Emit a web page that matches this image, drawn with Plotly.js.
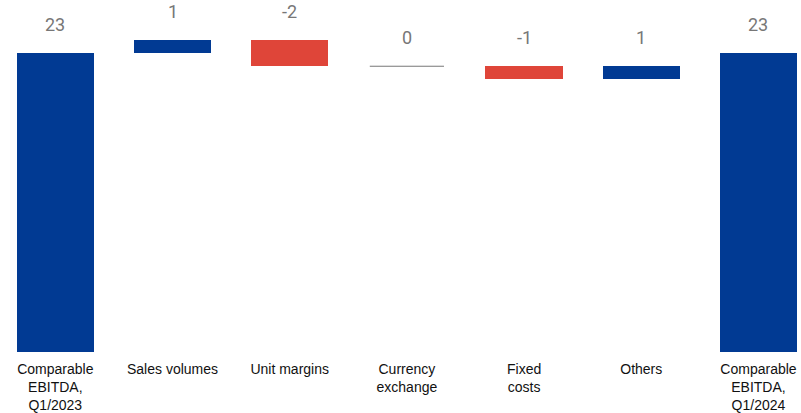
<!DOCTYPE html>
<html>
<head>
<meta charset="utf-8">
<script src="https://cdn.plot.ly/plotly-3.0.1.min.js"></script>
<style>html,body{margin:0;padding:0;background:#fff;}#chart{width:801px;height:413px;}</style>
</head>
<body>
<div id="chart"></div>
<script>
// ---- data ----
var categories = ["Comparable<br>EBITDA,<br>Q1/2023", "Sales volumes", "Unit margins", "Currency<br>exchange", "Fixed<br>costs", "Others", "Comparable<br>EBITDA,<br>Q1/2024"];
var values = [23, 1, -2, 0, -1, 1, 23];
var measures = ["absolute", "relative", "relative", "relative", "relative", "relative", "absolute"];
var valueLabels = ["23", "1", "-2", "0", "-1", "1", "23"];

// ---- styles ----
var BLUE = "#013a93";
var RED = "#df4539";
var GRAY = "#777777";

// build waterfall geometry from data
var idx = [], bases = [], heights = [], colors = [], tops = [];
var running = 0;
for (var i = 0; i < values.length; i++) {
  idx.push(i);
  var b, h;
  if (measures[i] === "absolute") { b = 0; h = values[i]; running = values[i]; }
  else { b = running; h = values[i]; running += values[i]; }
  bases.push(b); heights.push(h);
  tops.push(Math.max(b, b + h));
  colors.push(values[i] < 0 ? RED : BLUE);
}

var zeroX = [], zeroY = [];
for (var j = 0; j < values.length; j++) {
  if (values[j] === 0) { zeroX.push(j); zeroY.push(bases[j]); }
}

var barTrace = {
  type: "bar",
  x: idx,
  y: heights,
  base: bases,
  width: 0.66,
  marker: {color: colors, line: {width: 0}},
  hoverinfo: "none",
  showlegend: false
};

var zeroTrace = {
  type: "scatter",
  mode: "markers",
  x: zeroX,
  y: zeroY,
  marker: {symbol: "line-ew", size: 53, color: GRAY, line: {color: GRAY, width: 1}},
  hoverinfo: "none",
  showlegend: false,
  cliponaxis: false
};

var annotations = idx.map(function (k) {
  return {
    x: k, y: tops[k], xref: "x", yref: "y",
    text: valueLabels[k], showarrow: false,
    yanchor: "bottom", yshift: 16,
    font: {family: "Roboto, sans-serif", size: 18, color: GRAY}
  };
});

var layout = {
  width: 801, height: 413,
  margin: {l: 0, r: 0, t: 0, b: 61, pad: 0},
  paper_bgcolor: "#ffffff",
  plot_bgcolor: "#ffffff",
  xaxis: {
    range: [-0.472, 6.363],
    tickvals: idx, ticktext: categories,
    showgrid: false, zeroline: false, showline: false, ticks: "",
    ticklabelstandoff: 7,
    tickfont: {family: "Liberation Sans, Arial, sans-serif", size: 14, color: "#111111"}
  },
  yaxis: {
    range: [0, 27.1],
    visible: false, showgrid: false, zeroline: false
  },
  annotations: annotations,
  bargap: 0
};

Plotly.newPlot("chart", [barTrace, zeroTrace], layout, {displayModeBar: false, staticPlot: true});
</script>
</body>
</html>
